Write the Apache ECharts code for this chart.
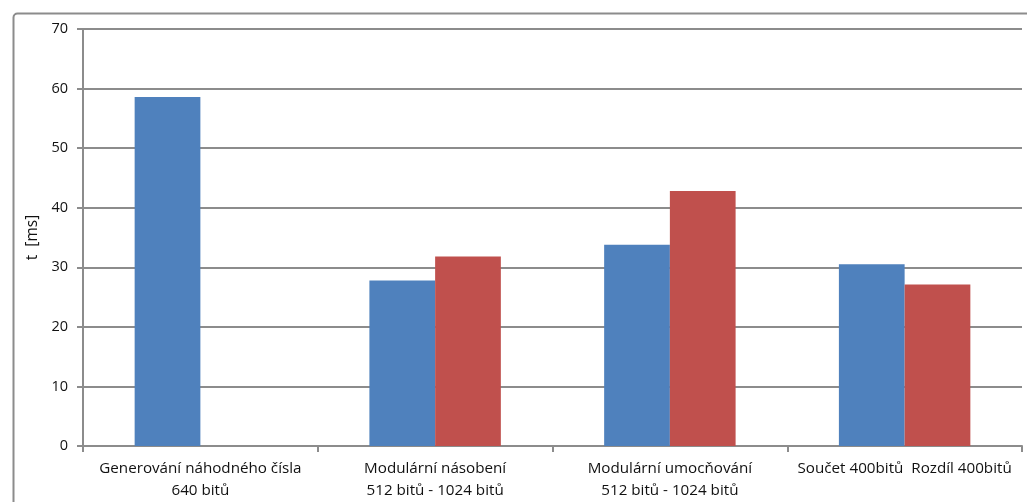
<!DOCTYPE html>
<html>
<head>
<meta charset="utf-8">
<script src="https://cdn.jsdelivr.net/npm/echarts@6/dist/echarts.min.js"></script>
<style>
  html, body { margin: 0; padding: 0; background: #fff; }
  #chart { width: 1027px; height: 502px; }
</style>
</head>
<body>
<div id="chart"></div>
<script>
// Operation names (x axis) and measured times in ms
const categories = [
  'Generování náhodného čísla\n640 bitů',
  'Modulární násobení\n512 bitů - 1024 bitů',
  'Modulární umocňování\n512 bitů - 1024 bitů',
  'Součet 400bitů  Rozdíl 400bitů'
];
const timesFirst = [58.6, 27.8, 33.8, 30.5];
const timesSecond = [null, 31.8, 42.8, 27.1];
const yTicks = { min: 0, max: 70, interval: 10 };
const yAxisTitle = 't  [ms]';

const gray = '#8c8c8c';
const textColor = '#111111';
const font = 'Open Sans';

const chart = echarts.init(document.getElementById('chart'), null, { renderer: 'canvas' });
chart.setOption({
  animation: false,
  backgroundColor: '#ffffff',
  graphic: [{
    type: 'rect',
    left: 11, top: 11,
    shape: { width: 1100, height: 600, r: 4 },
    style: { fill: 'none', stroke: gray, lineWidth: 2 },
    silent: true
  }],
  grid: { left: 83, right: 5, top: 29, bottom: 55 },
  xAxis: {
    type: 'category',
    data: categories,
    axisLine: { lineStyle: { color: gray, width: 2 } },
    axisTick: { show: true, length: 6, lineStyle: { color: gray, width: 2 } },
    axisLabel: {
      color: textColor, fontFamily: font, fontSize: 15.2,
      lineHeight: 22, margin: 12, interval: 0
    }
  },
  yAxis: {
    type: 'value',
    min: yTicks.min, max: yTicks.max, interval: yTicks.interval,
    name: yAxisTitle,
    nameLocation: 'middle',
    nameGap: 41,
    nameRotate: 90,
    nameTextStyle: { color: textColor, fontFamily: font, fontSize: 15.5 },
    axisLine: { show: true, lineStyle: { color: gray, width: 2 } },
    axisTick: { show: true, length: 6, lineStyle: { color: gray, width: 2 } },
    axisLabel: { color: textColor, fontFamily: font, fontSize: 14.5, margin: 15 },
    splitLine: { lineStyle: { color: gray, width: 2 } }
  },
  series: [
    {
      type: 'bar',
      data: timesFirst,
      barCategoryGap: '44%',
      barGap: '0%',
      itemStyle: { color: '#4f81bd' }
    },
    {
      type: 'bar',
      data: timesSecond,
      itemStyle: { color: '#c0504d' }
    }
  ]
});
</script>
</body>
</html>
